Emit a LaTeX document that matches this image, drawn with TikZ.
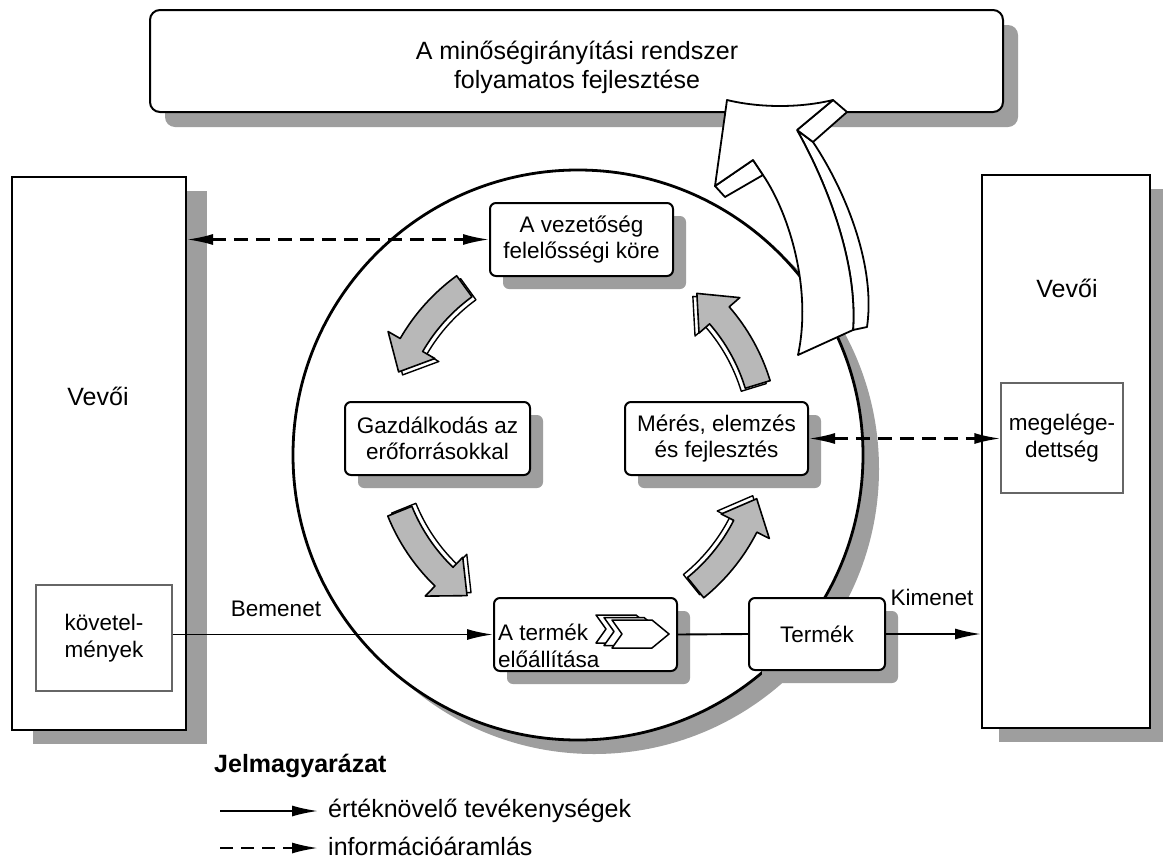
\documentclass[tikz,border=0pt]{standalone}
\usepackage{fontspec}
\setmainfont{Liberation Sans}
\usetikzlibrary{arrows.meta,shadows}
\definecolor{shadowgray}{gray}{0.62}
\definecolor{arrowgray}{gray}{0.72}
\newcommand\nfont{\fontsize{22.5}{26.5}\selectfont}
\newcommand\bfont{\fontsize{25}{29}\selectfont}
\newcommand\cyclearrow[5]{%
  \begin{scope}[shift={(C)}]
    \filldraw[cycdepth, shift={(#4,#5)}] (#1:203) arc[start angle=#1, end angle=#2, radius=203] -- (#2:217) -- (#3:190) -- (#2:163) -- (#2:177) arc[start angle=#2, end angle=#1, radius=177] -- cycle;
    \filldraw[cycface] (#1:203) arc[start angle=#1, end angle=#2, radius=203] -- (#2:217) -- (#3:190) -- (#2:163) -- (#2:177) arc[start angle=#2, end angle=#1, radius=177] -- cycle;
  \end{scope}}
\begin{document}
\begin{tikzpicture}[x=1pt,y=-1pt,
  sh/.style 2 args={drop shadow={shadow xshift=#1pt, shadow yshift=-#2pt, fill=shadowgray, opacity=1}},
  topbox/.style={draw, line width=2pt, rounded corners=10pt, fill=white, minimum width=853pt, minimum height=102pt, inner sep=0pt, sh={15}{15}},
  custbox/.style={draw, line width=2pt, fill=white, minimum height=553pt, inner sep=0pt},
  procbox/.style={draw, line width=2pt, rounded corners=6pt, fill=white, font=\nfont, align=center, inner sep=0pt, minimum width=183pt, minimum height=73pt, sh={13}{13}},
  innerbox/.style={draw=black!60, line width=1.3pt, fill=white, font=\nfont, align=center, inner sep=0pt},
  lbl/.style={font=\nfont, anchor=base},
  flow/.style={line width=1.9pt, -{Latex[length=26pt,width=11pt]}},
  plainline/.style={line width=1.9pt},
  info/.style={line width=2.1pt, dash pattern=on 14pt off 8pt, {Latex[length=26pt,width=11pt]}-{Latex[length=26pt,width=11pt]}},
  infoone/.style={line width=2.1pt, dash pattern=on 13pt off 8pt, -{Latex[length=26pt,width=11pt]}},
  bigarrow/.style={draw, line width=1.8pt, fill=white, line join=round},
  cycdepth/.style={draw, line width=1.4pt, fill=white, line join=round},
  cycface/.style={draw, line width=1.6pt, fill=arrowgray, line join=round}]
\useasboundingbox (0,0) rectangle (1163,860);
\fill[white] (0,0) rectangle (1163,860);

% top box
\node[topbox] (top) at (576.5,61) {};
\node[font=\bfont, align=center] (toptext) at (577,67) {A minőségirányítási rendszer\\folyamatos fejlesztése};

% customer boxes
\node[custbox, minimum width=174pt, sh={21}{14}] (left) at (99,453.5) {};
\node[custbox, minimum width=168pt, sh={17}{14}] (right) at (1066,451.5) {};
\node[font=\bfont, anchor=base] (lvev) at (98,405) {Vevői};
\node[font=\bfont, anchor=base] (rvev) at (1067,297) {Vevői};
\node[innerbox, minimum width=136pt, minimum height=106pt] (kov) at (104,638) {követel-\\mények};
\node[innerbox, minimum width=122pt, minimum height=110pt] (meg) at (1062,438) {megelége-\\dettség};

% circle
\node[circle, draw, line width=2.8pt, fill=white, minimum size=570pt, inner sep=0pt, sh={16}{14}] (circ) at (578,455) {};

% big 3D arrow
\filldraw[bigarrow] (797,130) -- (813,142) .. controls (845,190) and (876,265) .. (867,327) -- (853,330) .. controls (858,260) and (825,180) .. (797,130) -- cycle;
\filldraw[bigarrow] (833,100) -- (847,112) -- (813,142) -- (797,130) -- cycle;
\filldraw[bigarrow] (715,186) -- (725,197) -- (763,175) -- (753,160) -- cycle;
\filldraw[bigarrow] (715,186) -- (727,100) .. controls (760,108) and (800,108) .. (833,100) -- (797,130) .. controls (825,180) and (858,260) .. (853,330) -- (798,355) .. controls (812,290) and (790,215) .. (763,175) -- (753,160) -- cycle;

% cycle arrows
\coordinate (C) at (576,440);
\cyclearrow{-126}{-150}{-159}{4}{3}
\cyclearrow{-202}{-226}{-235}{4}{-3}
\cyclearrow{-309}{-333}{-342}{-4}{-3}
\cyclearrow{-17}{-41}{-50.5}{-4}{3}

% process boxes
\node[procbox] (vez) at (581.5,239.5) {A vezetőség\\felelősségi köre};
\node[procbox, minimum width=185pt] (gaz) at (437.5,438.5) {Gazdálkodás az\\erőforrásokkal};
\node[procbox] (mer) at (716.5,438.5) {Mérés, elemzés\\és fejlesztés};
\node[procbox] (term) at (585.5,634.5) {};
\node[font=\nfont, align=left, anchor=base west, inner sep=0pt] (termtxt) at (498,667) {A termék\\előállítása};
\node[procbox, minimum width=136pt, minimum height=72pt] (termek) at (817,634) {Termék};

% chevrons in product box
\foreach \dx/\dy in {-16/-5, -8/-2.5, 0/0}{
  \filldraw[fill=white, line width=1.5pt, line join=round, shift={(\dx,\dy)}]
    (612,620) -- (652,620) -- (669,634) -- (652,648) -- (612,648) -- (622,634) -- cycle;
}

% connectors
\draw[flow] (kov.east |- term.west) -- (term.west);
\draw[plainline] (term.east) -- (termek.west);
\draw[flow] (termek.east) -- (termek.east -| right.west);
\draw[info] (left.east |- vez.west) -- (vez.west);
\draw[info] (mer.east) -- (mer.east -| meg.west);
\node[lbl] (bem) at (276,616) {Bemenet};
\node[lbl] (kim) at (932,605) {Kimenet};

% legend
\node[font=\bfont\bfseries, anchor=base west, inner sep=0pt] (leg) at (214,772) {Jelmagyarázat};
\coordinate (l1a) at (220,811);
\coordinate (l1b) at (318,811);
\coordinate (l2a) at (220,848);
\coordinate (l2b) at (318,848);
\draw[flow] (l1a) -- (l1b);
\draw[infoone] (l2a) -- (l2b);
\node[font=\bfont, anchor=base west, inner sep=0pt] (l1t) at (328,817) {értéknövelő tevékenységek};
\node[font=\bfont, anchor=base west, inner sep=0pt] (l2t) at (328,855) {információáramlás};
\end{tikzpicture}
\end{document}
